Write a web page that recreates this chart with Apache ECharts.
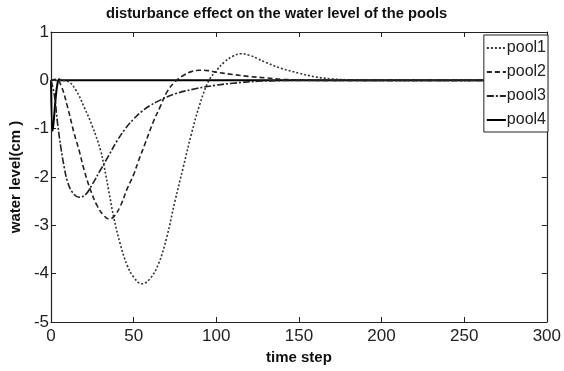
<!DOCTYPE html>
<html><head><meta charset="utf-8">
<script src="https://cdn.jsdelivr.net/npm/echarts@6/dist/echarts.min.js"></script>
<style>html,body{margin:0;padding:0;background:#fff}#c{width:564px;height:371px}</style>
</head><body><div id="c"></div>
<script>
var titleText = 'disturbance effect on the water level of the pools';
var xName = 'time step';
var yName = 'water level(cm )';
var seriesNames = ['pool1', 'pool2', 'pool3', 'pool4'];
var xTicks = [0, 50, 100, 150, 200, 250, 300];
var yTicks = [-5, -4, -3, -2, -1, 0, 1];

var pool1X = [0, 5, 10, 15, 20, 25, 30, 32, 35, 38, 42, 46, 50, 55, 60, 65, 70, 75, 80, 85, 90, 95, 100, 105, 110, 115, 120, 125, 130, 140, 150, 160, 170, 180, 190, 300];
var pool1Y = [0, 0, -0.02, -0.2, -0.55, -0.95, -1.45, -1.76, -2.3, -2.84, -3.4, -3.82, -4.07, -4.21, -4.1, -3.8, -3.25, -2.5, -1.8, -1.1, -0.5, -0.04, 0.2, 0.38, 0.5, 0.55, 0.52, 0.45, 0.37, 0.24, 0.15, 0.07, 0.03, 0.01, 0, 0];

var pool2X = [0, 3, 6, 10, 14, 17, 20, 24, 28, 32, 35, 38, 42, 46, 50, 53, 57, 62, 66, 70, 75, 80, 85, 90, 95, 100, 110, 120, 130, 140, 150, 160, 300];
var pool2Y = [0, 0.02, -0.1, -0.55, -1.1, -1.45, -1.85, -2.28, -2.6, -2.8, -2.87, -2.82, -2.6, -2.25, -1.95, -1.66, -1.3, -0.85, -0.55, -0.25, -0.03, 0.1, 0.18, 0.21, 0.2, 0.17, 0.12, 0.08, 0.05, 0.02, 0.01, 0, 0];

var pool3X = [0, 2, 4, 6, 8, 10, 13, 17, 21, 25, 30, 35, 40, 45, 50, 55, 60, 66, 75, 88, 100, 110, 125, 140, 150, 300];
var pool3Y = [0, -0.3, -0.9, -1.4, -1.8, -2.1, -2.32, -2.42, -2.36, -2.15, -1.85, -1.55, -1.25, -1.0, -0.8, -0.64, -0.52, -0.41, -0.28, -0.17, -0.1, -0.06, -0.02, -0.005, 0, 0];

var pool4X = [0, 1, 2, 3, 4, 5, 6, 300];
var pool4Y = [0, -1.05, -0.7, -0.3, -0.05, 0.02, 0, 0];

function pairs(xs, ys) { return xs.map(function (x, i) { return [x, ys[i]]; }); }

var styles = [
  { type: [2, 2], width: 1.6, color: '#333' },
  { type: [5, 3], width: 1.6, color: '#222' },
  { type: [7, 2, 2, 2], width: 1.6, color: '#222' },
  { type: 'solid', width: 2, color: '#000' }
];
var datas = [pairs(pool1X, pool1Y), pairs(pool2X, pool2Y), pairs(pool3X, pool3Y), pairs(pool4X, pool4Y)];

var labelFont = { fontFamily: 'Liberation Sans Narrow, Arial Narrow, Liberation Sans, Arial', fontSize: 17, color: '#222' };
var lineAxis = { onZero: false, lineStyle: { color: '#222', width: 1.2 } };
var tick = { inside: true, length: 5, lineStyle: { color: '#222' } };

var chart = echarts.init(document.getElementById('c'));
chart.setOption({
  animation: false,
  backgroundColor: '#fff',
  title: {
    text: titleText, left: 101, top: 1,
    textStyle: { fontFamily: 'Liberation Sans, Arial', fontSize: 14.7, fontWeight: 'bold', color: '#111' }
  },
  grid: { left: 42, right: 16, top: 32, bottom: 49 },
  legend: {
    data: seriesNames, orient: 'vertical', right: 16, top: 35,
    backgroundColor: '#fff', borderColor: '#222', borderWidth: 1, borderRadius: 0,
    padding: [5, 2, 4, 2], itemWidth: 19, itemHeight: 12, itemGap: 8,
    itemStyle: { opacity: 0 },
    textStyle: { fontFamily: 'Liberation Sans Narrow, Arial Narrow, Liberation Sans, Arial', fontSize: 16, color: '#222', padding: [0, 0, 0, -4] }
  },
  xAxis: [{
    type: 'value', min: 0, max: 300, interval: 50, position: 'bottom',
    name: xName, nameLocation: 'middle', nameGap: 28,
    nameTextStyle: { fontFamily: 'Liberation Sans, Arial', fontSize: 15, fontWeight: 'bold', color: '#111' },
    axisLine: lineAxis, axisTick: tick,
    axisLabel: Object.assign({ margin: 6 }, labelFont), splitLine: { show: false }
  }, {
    type: 'value', min: 0, max: 300, interval: 50, position: 'top',
    axisLine: lineAxis, axisTick: tick,
    axisLabel: { show: false }, splitLine: { show: false }
  }],
  yAxis: [{
    type: 'value', min: -5, max: 1, interval: 1, position: 'left',
    name: yName, nameLocation: 'middle', nameGap: 22, nameRotate: 90,
    nameTextStyle: { fontFamily: 'Liberation Sans, Arial', fontSize: 15, fontWeight: 'bold', color: '#111' },
    axisLine: lineAxis, axisTick: tick,
    axisLabel: Object.assign({ margin: 2 }, labelFont), splitLine: { show: false }
  }, {
    type: 'value', min: -5, max: 1, interval: 1, position: 'right',
    axisLine: lineAxis, axisTick: tick,
    axisLabel: { show: false }, splitLine: { show: false }
  }],
  series: seriesNames.map(function (n, i) {
    return {
      name: n, type: 'line', data: datas[i], smooth: 0.4, symbol: 'none',
      xAxisIndex: 0, yAxisIndex: 0, z: 2 + (i === 3 ? 0 : 1),
      lineStyle: styles[i], itemStyle: { color: styles[i].color }
    };
  })
});
</script>
</body></html>
